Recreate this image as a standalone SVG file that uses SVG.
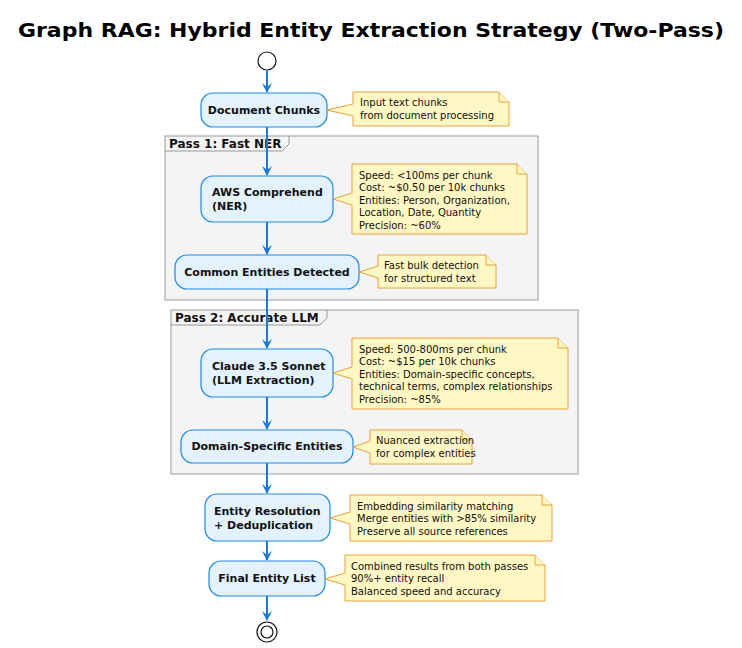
<svg xmlns="http://www.w3.org/2000/svg" width="742" height="648" viewBox="0 0 742 648">
<style>
.n{fill:#e3f2fd;stroke:#1e88e5;stroke-width:1.2}
.nt{font-family:"DejaVu Sans",sans-serif;font-size:11px;font-weight:bold;fill:#111}
.note{fill:#fff8c4;stroke:#e6a23c;stroke-width:1}
.tt{font-family:"DejaVu Sans",sans-serif;font-size:10px;fill:#111}
.fr{fill:#f4f4f4;stroke:#999;stroke-width:1}
.ft{font-family:"DejaVu Sans",sans-serif;font-size:12px;font-weight:bold;fill:#111}
.c{stroke:#1e78d2;stroke-width:2;fill:none;marker-end:url(#a)}
</style>
<defs><marker id="a" viewBox="0 0 10 10" refX="9" refY="5" markerWidth="5" markerHeight="5" orient="auto"><path d="M0,0 L10,5 L0,10 L4,5 z" fill="#1e78d2"/></marker></defs>
<rect width="742" height="648" fill="#fff"/>
<text x="371" y="37" text-anchor="middle" font-family="DejaVu Sans,sans-serif" font-size="20" font-weight="bold" textLength="706" lengthAdjust="spacingAndGlyphs">Graph RAG: Hybrid Entity Extraction Strategy (Two-Pass)</text>
<g id="pass1"><rect class="fr" x="165" y="136" width="373" height="164"/><path d="M165,151 H282 L289,144 V136" fill="none" stroke="#999"/><text class="ft" x="169" y="148">Pass 1: Fast NER</text></g>
<g id="pass2"><rect class="fr" x="171" y="310" width="407" height="164"/><path d="M171,325 H320 L327,318 V310" fill="none" stroke="#999"/><text class="ft" x="175" y="322">Pass 2: Accurate LLM</text></g>
<g id="connectors">
<line class="c" x1="267" y1="71" x2="267" y2="92"/>
<line class="c" x1="267" y1="127" x2="267" y2="175"/>
<line class="c" x1="267" y1="222" x2="267" y2="254"/>
<line class="c" x1="267" y1="289" x2="267" y2="348"/>
<line class="c" x1="267" y1="397" x2="267" y2="429"/>
<line class="c" x1="267" y1="463" x2="267" y2="493"/>
<line class="c" x1="267" y1="541" x2="267" y2="560"/>
<line class="c" x1="267" y1="596" x2="267" y2="620"/>
</g>
<g id="start"><circle cx="267" cy="61" r="9" fill="#fff" stroke="#111" stroke-width="1.2"/></g>
<g id="chunks"><rect class="n" x="201" y="93" width="126" height="34" rx="12"/><text class="nt" x="264" y="114" text-anchor="middle">Document Chunks</text></g>
<g id="note1"><path class="note" d="M353,92 H499 L509,102 V126 H353 V116 L327,110 L353,104 Z"/><path class="note" d="M499,92 V102 H509"/><text class="tt" x="360" y="106">Input text chunks</text><text class="tt" x="360" y="119">from document processing</text></g>
<g id="aws"><rect class="n" x="201" y="176" width="132" height="46" rx="12"/><text class="nt" x="212" y="196">AWS Comprehend</text><text class="nt" x="212" y="210">(NER)</text></g>
<g id="note2"><path class="note" d="M352,164 H517 L527,174 V234 H352 V205 L333,199 L352,193 Z"/><path class="note" d="M517,164 V174 H527"/><text class="tt" x="359" y="179">Speed: &lt;100ms per chunk</text><text class="tt" x="359" y="191">Cost: ~$0.50 per 10k chunks</text><text class="tt" x="359" y="204">Entities: Person, Organization,</text><text class="tt" x="359" y="216">Location, Date, Quantity</text><text class="tt" x="359" y="229">Precision: ~60%</text></g>
<g id="common"><rect class="n" x="175" y="255" width="184" height="34" rx="12"/><text class="nt" x="267" y="276" text-anchor="middle">Common Entities Detected</text></g>
<g id="note3"><path class="note" d="M378,255 H486 L496,265 V288 H378 V278 L359,272 L378,266 Z"/><path class="note" d="M486,255 V265 H496"/><text class="tt" x="384" y="269">Fast bulk detection</text><text class="tt" x="384" y="282">for structured text</text></g>
<g id="claude"><rect class="n" x="201" y="349" width="132" height="48" rx="12"/><text class="nt" x="212" y="370">Claude 3.5 Sonnet</text><text class="nt" x="212" y="384">(LLM Extraction)</text></g>
<g id="note4"><path class="note" d="M352,338 H558 L568,348 V409 H352 V379 L333,373 L352,367 Z"/><path class="note" d="M558,338 V348 H568"/><text class="tt" x="359" y="353">Speed: 500-800ms per chunk</text><text class="tt" x="359" y="365">Cost: ~$15 per 10k chunks</text><text class="tt" x="359" y="378">Entities: Domain-specific concepts,</text><text class="tt" x="359" y="390">technical terms, complex relationships</text><text class="tt" x="359" y="403">Precision: ~85%</text></g>
<g id="domain"><rect class="n" x="181" y="430" width="172" height="33" rx="12"/><text class="nt" x="267" y="450" text-anchor="middle">Domain-Specific Entities</text></g>
<g id="note5"><path class="note" d="M370,430 H462 L472,440 V464 H370 V453 L353,447 L370,441 Z"/><path class="note" d="M462,430 V440 H472"/><text class="tt" x="376" y="444">Nuanced extraction</text><text class="tt" x="376" y="457">for complex entities</text></g>
<g id="resolution"><rect class="n" x="205" y="494" width="125" height="47" rx="12"/><text class="nt" x="214" y="515">Entity Resolution</text><text class="nt" x="214" y="529">+ Deduplication</text></g>
<g id="note6"><path class="note" d="M350,495 H542 L552,505 V541 H350 V524 L330,518 L350,512 Z"/><path class="note" d="M542,495 V505 H552"/><text class="tt" x="357" y="510">Embedding similarity matching</text><text class="tt" x="357" y="522">Merge entities with &gt;85% similarity</text><text class="tt" x="357" y="535">Preserve all source references</text></g>
<g id="final"><rect class="n" x="209" y="561" width="116" height="35" rx="12"/><text class="nt" x="267" y="582" text-anchor="middle">Final Entity List</text></g>
<g id="note7"><path class="note" d="M345,555 H535 L545,565 V601 H345 V585 L325,579 L345,573 Z"/><path class="note" d="M535,555 V565 H545"/><text class="tt" x="351" y="570">Combined results from both passes</text><text class="tt" x="351" y="582">90%+ entity recall</text><text class="tt" x="351" y="595">Balanced speed and accuracy</text></g>
<g id="end"><circle cx="267" cy="632" r="10" fill="#fff" stroke="#111" stroke-width="1.2"/><circle cx="267" cy="632" r="6" fill="#fff" stroke="#111" stroke-width="1.2"/></g>
</svg>
